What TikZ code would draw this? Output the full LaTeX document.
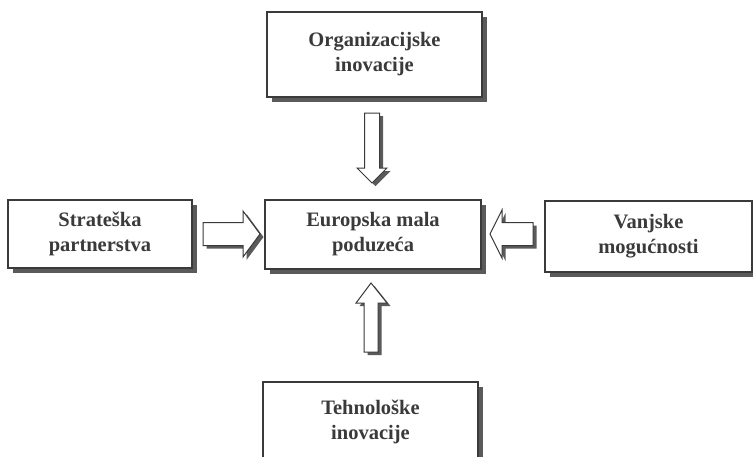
\documentclass[tikz,border=0pt]{standalone}
\usepackage{fontspec}
\setmainfont{Liberation Serif}
\usetikzlibrary{shadows}
\definecolor{ink}{HTML}{3A3A3A}
\definecolor{shade}{HTML}{5A5A5A}
\tikzset{
  box/.style={draw=ink, line width=1.1pt, fill=white, align=center,
    text=ink, font=\bfseries\fontsize{20.5}{25}\selectfont,
    inner sep=0pt,
    drop shadow={shadow xshift=4.5pt, shadow yshift=-4.5pt, fill=shade, opacity=1}},
  arrowbody/.style={draw=ink, line width=1pt, fill=white, line join=miter},
  arrowshadow/.style={fill=shade}
}
\newcommand\blockarrow[1]{\fill[arrowshadow, shift={(3.5,3)}] #1; \filldraw[arrowbody] #1;}
\begin{document}
\begin{tikzpicture}[x=1pt, y=-1pt]
\useasboundingbox[fill=white] (0,0) rectangle (753,456);
\begin{scope}
\clip (0,0) rectangle (753,456);
\node[box, minimum width=215pt, minimum height=85pt] (org) at (374.5,54.5) {Organizacijske\\inovacije};
\node[box, minimum width=184pt, minimum height=68pt] (strat) at (100,234) {Strateška\\partnerstva};
\node[box, minimum width=216pt, minimum height=69pt] (euro) at (373,234.5) {Europska mala\\poduzeća};
\node[box, minimum width=207pt, minimum height=71pt] (vanj) at (648.5,236.5) {Vanjske\\mogućnosti};
\node[box, minimum width=215pt, minimum height=80pt] (tech) at (370.5,422) {Tehnološke\\inovacije};
% block arrows
\blockarrow{(364.5,113) -- (379.5,113) -- (379.5,168) -- (387,168) -- (372,183) -- (357,168) -- (364.5,168) -- cycle}
\blockarrow{(364,352) -- (378,352) -- (378,303) -- (387,303) -- (371,283) -- (356,303) -- (364,303) -- cycle}
\blockarrow{(203,222.5) -- (243,222.5) -- (243,211) -- (260,234) -- (243,257) -- (243,245.5) -- (203,245.5) -- cycle}
\blockarrow{(533,222.5) -- (502,222.5) -- (502,210) -- (490,234) -- (502,258) -- (502,245.5) -- (533,245.5) -- cycle}
\end{scope}
\end{tikzpicture}
\end{document}
